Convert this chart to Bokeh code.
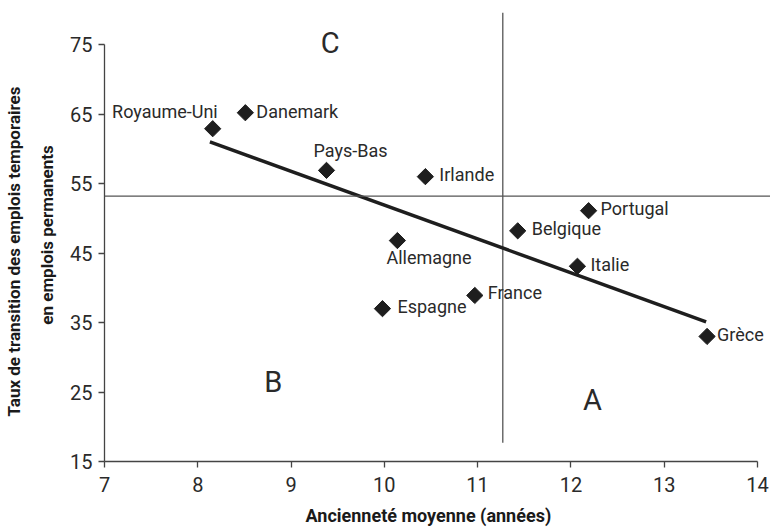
from bokeh.plotting import figure
from bokeh.models import ColumnDataSource, Span, Title
from bokeh.core.properties import value
from bokeh.embed import file_html
from bokeh.resources import INLINE

# ---- data ----
countries = ["Royaume-Uni", "Danemark", "Pays-Bas", "Irlande", "Portugal", "Belgique",
             "Allemagne", "Italie", "France", "Espagne", "Grèce"]
anciennete = [8.16, 8.51, 9.38, 10.44, 12.19, 11.43, 10.14, 12.07, 10.97, 9.98, 13.46]
transition = [62.9, 65.2, 56.9, 56.0, 51.1, 48.2, 46.8, 43.1, 38.9, 37.0, 33.0]

trend_x = [8.13, 13.45]
trend_y = [61.0, 35.1]

mean_anciennete = 11.27
mean_transition = 53.2
vline_y = [17.7, 79.6]

quadrants = ["A", "B", "C"]
quad_x = [12.23, 8.81, 9.42]
quad_y = [23.9, 26.5, 75.3]

x_ticks = [7, 8, 9, 10, 11, 12, 13, 14]
y_ticks = [15, 25, 35, 45, 55, 65, 75]

x_title = "Ancienneté moyenne (années)"
y_title_lines = ["Taux de transition des emplois temporaires", "en emplois permanents"]

# ---- label placement (screen px) ----
label_dx = [5, 11, -13, 14, 12, 14, -11, 13, 13, 15, 10]
label_dy = [-17, -1, -20, -2, -2, -2, 17, -2, -3, -2, -2]
label_align = ["right", "left", "left", "left", "left", "left", "left", "left", "left", "left", "left"]

FONT = "Roboto"
INK = "#1e1e1e"
AXIS = "#444444"

p = figure(frame_width=666, frame_height=453,
           x_range=(7, 14.14), y_range=(15, 80.2),
           output_backend="svg", toolbar_location=None,
           min_border_left=104, min_border_right=0, min_border_top=8, min_border_bottom=68)
p.outline_line_color = None
p.xgrid.visible = False
p.ygrid.visible = False
p.background_fill_color = "white"
p.border_fill_color = "white"

# quadrant lines
p.add_layout(Span(location=mean_transition, dimension="width", line_color="#555555", line_width=1.3))
p.segment(x0=[mean_anciennete], y0=[vline_y[0]], x1=[mean_anciennete], y1=[vline_y[1]],
          line_color="#555555", line_width=1.3)

# trend line
p.line(trend_x, trend_y, line_color=INK, line_width=3.5)

src = ColumnDataSource(dict(x=anciennete, y=transition, name=countries,
                            dx=label_dx, dy=label_dy, align=label_align))
p.scatter("x", "y", source=src, marker="square", size=11.5, angle=0.7854,
          fill_color=INK, line_color=INK)
p.text("x", "y", text="name", source=src, x_offset="dx", y_offset="dy",
       text_align="align", text_baseline="alphabetic",
       text_font=value(FONT), text_font_size="18px", text_color="#2a2a2a")

p.text(quad_x, quad_y, text=quadrants, text_align="center", text_baseline="middle",
       text_font=value(FONT), text_font_size="29px", text_color="#2a2a2a")

for ax, ticks, bounds in ((p.xaxis[0], x_ticks, (7, 14)), (p.yaxis[0], y_ticks, (15, 75))):
    ax.ticker = ticks
    ax.bounds = bounds
    ax.axis_line_color = AXIS
    ax.axis_line_width = 1.3
    ax.major_tick_line_color = AXIS
    ax.major_tick_line_width = 1.3
    ax.major_tick_in = 0
    ax.major_tick_out = 6
    ax.minor_tick_line_color = None
    ax.major_label_text_font = FONT
    ax.major_label_text_font_size = "20px"
    ax.major_label_text_color = "#2a2a2a"

p.xaxis.major_label_standoff = 9
p.yaxis.major_label_standoff = 6

title_style = dict(text_font=FONT, text_font_style="bold", text_color="#1a1a1a")

# axis titles as side titles (placed like the reference, not centred on the frame)
p.add_layout(Title(text=x_title, align="left", offset=201, standoff=16,
                   text_font_size="18px", **title_style), "below")
p.add_layout(Title(text=y_title_lines[1], align="center", standoff=22,
                   text_font_size="17px", **title_style), "left")
p.add_layout(Title(text=y_title_lines[0], align="left", offset=45, standoff=0,
                   text_font_size="17px", **title_style), "left")

open("out.html", "w").write(file_html(p, INLINE))
